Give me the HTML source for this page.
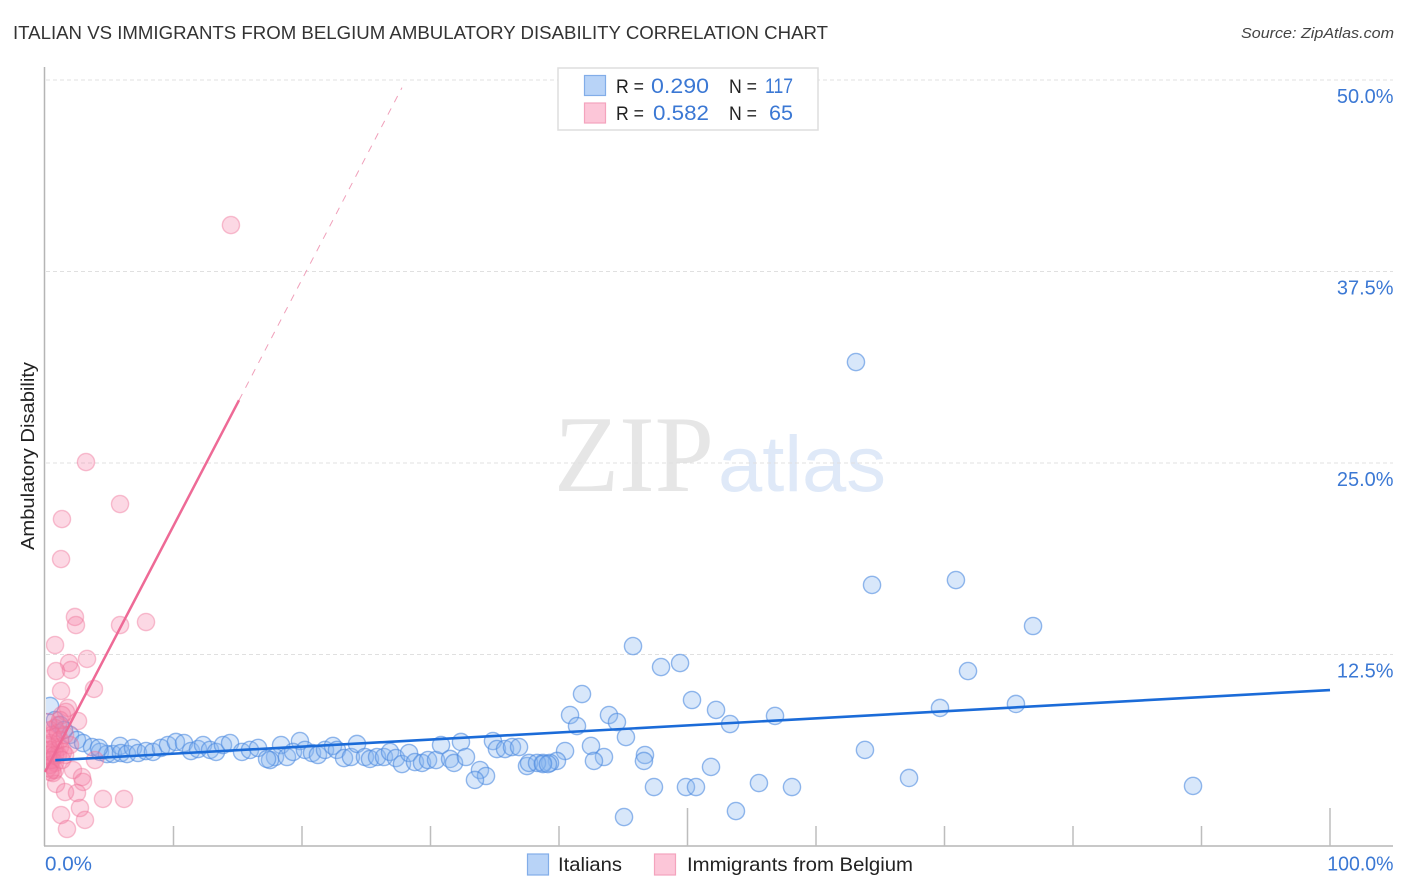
<!DOCTYPE html>
<html lang="en">
<head>
<meta charset="utf-8">
<title>Italian vs Immigrants from Belgium Ambulatory Disability Correlation Chart</title>
<style>
html,body{margin:0;padding:0;background:#fff;width:1406px;height:892px;overflow:hidden}
svg{display:block;font-family:"Liberation Sans",sans-serif}
</style>
</head>
<body>
<svg id="chart" xmlns="http://www.w3.org/2000/svg" width="1406" height="892" viewBox="0 0 1406 892">
  <defs>
    <clipPath id="plot-clip"><rect x="46" y="60" width="1348" height="785"/></clipPath>
  </defs>
  <rect x="0" y="0" width="1406" height="892" fill="#fff"/>
  <text x="13" y="39" font-size="18.5" fill="#333" textLength="815" lengthAdjust="spacingAndGlyphs">ITALIAN VS IMMIGRANTS FROM BELGIUM AMBULATORY DISABILITY CORRELATION CHART</text>
  <text x="1394" y="38" font-size="15" font-style="italic" fill="#444" text-anchor="end" textLength="153" lengthAdjust="spacingAndGlyphs">Source: ZipAtlas.com</text>
  <g>
    <text x="554" y="491" font-family="'Liberation Serif',serif" font-size="109" fill="#e6e6e6" textLength="160" lengthAdjust="spacingAndGlyphs">ZIP</text>
    <text x="718" y="491" font-size="79" fill="#dfe9f8" textLength="168" lengthAdjust="spacingAndGlyphs">atlas</text>
  </g>
  <g id="grid"></g>
  <g id="axes">
    <line x1="44.5" y1="67" x2="44.5" y2="846" stroke="#b5b5b5" stroke-width="1.5"/>
    <line x1="44" y1="846" x2="1393" y2="846" stroke="#b5b5b5" stroke-width="1.5"/>
  </g>
  <g id="points" clip-path="url(#plot-clip)"></g>
  <g id="trends"></g>
  <g id="labels"></g>
  <text transform="translate(34,456) rotate(-90)" font-size="18" fill="#222" text-anchor="middle" textLength="188" lengthAdjust="spacingAndGlyphs">Ambulatory Disability</text>

  <g>
    <rect x="558" y="68" width="260" height="62" fill="#fff" stroke="#dedede" stroke-width="1.5"/>
    <rect x="584.5" y="75.5" width="21" height="20" fill="#b8d3f7" stroke="#82ade8" stroke-width="1.2"/>
    <rect x="584.5" y="103" width="21" height="20" fill="#fcc6d8" stroke="#f4a3bd" stroke-width="1.2"/>
    <text x="616" y="93" font-size="19.5" fill="#222" textLength="28" lengthAdjust="spacingAndGlyphs">R =</text>
    <text x="651" y="93" font-size="21" fill="#3b78d4" textLength="58" lengthAdjust="spacingAndGlyphs">0.290</text>
    <text x="729" y="93" font-size="19.5" fill="#222" textLength="28" lengthAdjust="spacingAndGlyphs">N =</text>
    <text x="765" y="93" font-size="21" fill="#3b78d4" textLength="28" lengthAdjust="spacingAndGlyphs">117</text>
    <text x="616" y="120" font-size="19.5" fill="#222" textLength="28" lengthAdjust="spacingAndGlyphs">R =</text>
    <text x="653" y="120" font-size="21" fill="#3b78d4" textLength="56" lengthAdjust="spacingAndGlyphs">0.582</text>
    <text x="729" y="120" font-size="19.5" fill="#222" textLength="28" lengthAdjust="spacingAndGlyphs">N =</text>
    <text x="793" y="120" font-size="21" fill="#3b78d4" text-anchor="end" textLength="24" lengthAdjust="spacingAndGlyphs">65</text>
  </g>

  <g>
    <g>
      <rect x="527.5" y="854" width="21" height="21" fill="#b8d3f7" stroke="#82ade8" stroke-width="1.2"/>
      <text x="558" y="871" font-size="19.5" fill="#222" textLength="64" lengthAdjust="spacingAndGlyphs">Italians</text>
    </g>
    <g>
      <rect x="654.5" y="854" width="21" height="21" fill="#fcc6d8" stroke="#f4a3bd" stroke-width="1.2"/>
      <text x="687" y="871" font-size="19.5" fill="#222" textLength="226" lengthAdjust="spacingAndGlyphs">Immigrants from Belgium</text>
    </g>
  </g>
</svg>
<script>
var xTickValues = [10, 20, 30, 40, 50, 60, 70, 80, 90, 100];
var xMajorTicks = [50, 100];
var xEndValues = [0, 100];
var xEndLabels = ['0.0%', '100.0%'];
var yTickValues = [12.5, 25, 37.5, 50];
var yTickLabels = ['12.5%', '25.0%', '37.5%', '50.0%'];

var italiansX = [45.76,47.94,49.42,41.79,50.35,52.22,53.31,56.81,40.86,43.89,44.51,41.40,45.21,42.49,40.47,46.69,46.61,43.50,42.72,39.84,39.30,38.75,51.83,47.39,49.88,50.66,55.56,58.13,53.77,45.06,
63.11,64.36,70.89,76.89,71.83,75.56,69.65,63.81,67.24,89.34,
18.37,19.84,17.90,18.83,17.51,19.30,20.23,20.78,21.24,21.79,22.41,22.72,23.27,23.81,24.28,24.90,25.29,25.84,26.38,26.85,27.31,27.78,28.33,28.79,29.34,29.81,30.43,30.82,31.52,31.83,32.37,32.76,33.85,34.32,33.46,34.86,35.17,35.80,36.34,36.89,37.51,37.67,38.29,38.75,39.14,
0.39,0.78,1.17,1.95,2.49,2.96,3.66,4.28,4.82,5.29,5.84,5.91,6.38,6.85,7.24,7.86,8.40,9.03,9.57,10.19,10.82,11.36,11.91,12.30,12.84,13.31,13.85,14.40,15.33,15.95,16.58,17.28,4.20,1.48];
var italiansY = [13.05,11.68,11.94,9.92,9.53,8.88,7.96,8.49,8.55,8.55,8.09,7.83,7.11,6.53,6.20,5.94,5.55,5.81,5.55,5.55,5.42,5.42,5.16,3.85,3.85,3.85,4.11,3.85,2.28,1.89,
31.59,17.04,17.36,14.36,11.42,9.27,9.01,6.27,4.44,3.92,
6.59,6.85,5.81,5.81,5.61,6.14,6.27,6.07,5.94,6.27,6.53,6.27,5.74,5.81,6.66,5.81,5.68,5.81,5.81,6.14,5.74,5.35,6.07,5.48,5.42,5.61,5.61,6.59,5.68,5.42,6.79,5.81,4.96,4.57,4.31,6.85,6.33,6.33,6.46,6.46,5.22,5.42,5.42,5.35,5.35,
9.14,8.22,7.90,7.25,6.92,6.72,6.46,6.14,6.00,6.00,6.53,6.07,6.00,6.40,6.07,6.20,6.14,6.40,6.59,6.79,6.72,6.20,6.33,6.59,6.27,6.14,6.59,6.72,6.14,6.27,6.40,5.68,6.40,7.57];

var belgiumX = [2.33,2.41,5.84,7.86,0.78,1.87,3.27,0.86,2.02,1.25,3.81,1.79,1.63,1.32,2.57,1.01,0.78,0.62,0.39,0.78,1.17,0.54,1.01,1.40,0.39,0.78,0.54,0.62,3.89,2.18,2.88,2.96,0.86,1.56,2.49,4.51,6.15,2.72,1.25,3.11,1.71,14.47,3.19,5.84,1.32,1.25,
0.39,0.54,0.23,0.39,0.23,0.39,0.23,0.54,0.78,1.01,1.17,1.56,0.23,1.17,1.95,1.56,0.78,0.39,1.32];
var belgiumY = [14.95,14.42,14.42,14.62,13.12,11.94,12.21,11.42,11.49,10.12,10.25,9.01,8.75,8.55,8.16,7.90,7.70,7.11,6.72,6.46,6.46,6.07,5.94,6.14,5.61,5.42,4.96,4.76,5.61,4.96,4.50,4.18,4.05,3.52,3.46,3.07,3.07,2.48,2.02,1.70,1.11,40.53,25.06,22.32,21.34,18.73,
7.57,7.25,6.59,6.27,5.94,5.29,5.09,5.61,5.94,7.38,6.92,7.25,8.09,8.22,6.59,5.94,4.96,4.83,5.61];

var italiansTrendX = [0.8, 100];
var italiansTrendY = [5.6, 10.18];
var belgiumTrendX = [0, 15.1];
var belgiumTrendY = [4.83, 29.1];
var belgiumDashX = [15.1, 27.78];
var belgiumDashY = [29.1, 49.5];

var NS = 'http://www.w3.org/2000/svg';
function xScale(v) { return 45 + v * 12.85; }
function yScale(v) { return 846 - v * 15.32; }
function labelWidth(text) { return 47 + (text.length - 4) * 9.6; }
function make(parent, tag, attrs) {
  var el = document.createElementNS(NS, tag);
  for (var k in attrs) { el.setAttribute(k, attrs[k]); }
  parent.appendChild(el);
  return el;
}

var grid = document.getElementById('grid');
yTickValues.forEach(function (v) {
  var line = make(grid, 'line', {x1: 46, x2: 1393, y1: yScale(v), y2: yScale(v), stroke: '#e0e0e0', 'stroke-width': 1, 'stroke-dasharray': '4 3'});
  
  
});

var axes = document.getElementById('axes');
xTickValues.forEach(function (v) {
  var top = xMajorTicks.indexOf(v) >= 0 ? 808 : 826;
  var tick = make(axes, 'line', {x1: xScale(v), x2: xScale(v), y1: top, y2: 846, stroke: '#bdbdbd', 'stroke-width': 1.5});
  
  
});

var labels = document.getElementById('labels');
yTickValues.forEach(function (v, i) {
  var t = make(labels, 'text', {x: 1393.5, y: yScale(v) + 23, 'font-size': 20, fill: '#3b78d4', 'text-anchor': 'end', textLength: labelWidth(yTickLabels[i]), lengthAdjust: 'spacingAndGlyphs'});
  t.textContent = yTickLabels[i];
  
  
});
xEndValues.forEach(function (v, i) {
  var t = make(labels, 'text', {x: i === 0 ? xScale(v) : 1393.5, y: 870.5, 'font-size': 20, fill: '#3b78d4', 'text-anchor': i === 0 ? 'start' : 'end', textLength: labelWidth(xEndLabels[i]), lengthAdjust: 'spacingAndGlyphs'});
  t.textContent = xEndLabels[i];
  
  
});

var points = document.getElementById('points');
italiansX.forEach(function (v, i) {
  var c = make(points, 'circle', {cx: xScale(v), cy: yScale(italiansY[i]), r: 8.6, fill: '#8ab6f0', 'fill-opacity': 0.33, stroke: '#4d8be0', 'stroke-opacity': 0.6, 'stroke-width': 1.4});
  
  
});
belgiumX.forEach(function (v, i) {
  var c = make(points, 'circle', {cx: xScale(v), cy: yScale(belgiumY[i]), r: 8.6, fill: '#f67fa6', 'fill-opacity': 0.3, stroke: '#ee6f97', 'stroke-opacity': 0.42, 'stroke-width': 1.4});
  
  
});

var trends = document.getElementById('trends');
var belgiumLine = make(trends, 'line', {x1: xScale(belgiumTrendX[0]), y1: yScale(belgiumTrendY[0]), x2: xScale(belgiumTrendX[1]), y2: yScale(belgiumTrendY[1]), stroke: '#ee6a96', 'stroke-width': 2.5});


var belgiumDash = make(trends, 'line', {x1: xScale(belgiumDashX[0]), y1: yScale(belgiumDashY[0]), x2: xScale(belgiumDashX[1]), y2: yScale(belgiumDashY[1]), stroke: '#f0a0ba', 'stroke-width': 1, 'stroke-dasharray': '7 7'});


var italiansLine = make(trends, 'line', {x1: xScale(italiansTrendX[0]), y1: yScale(italiansTrendY[0]), x2: xScale(italiansTrendX[1]), y2: yScale(italiansTrendY[1]), stroke: '#1b6bd8', 'stroke-width': 2.6});


</script>
</body>
</html>
